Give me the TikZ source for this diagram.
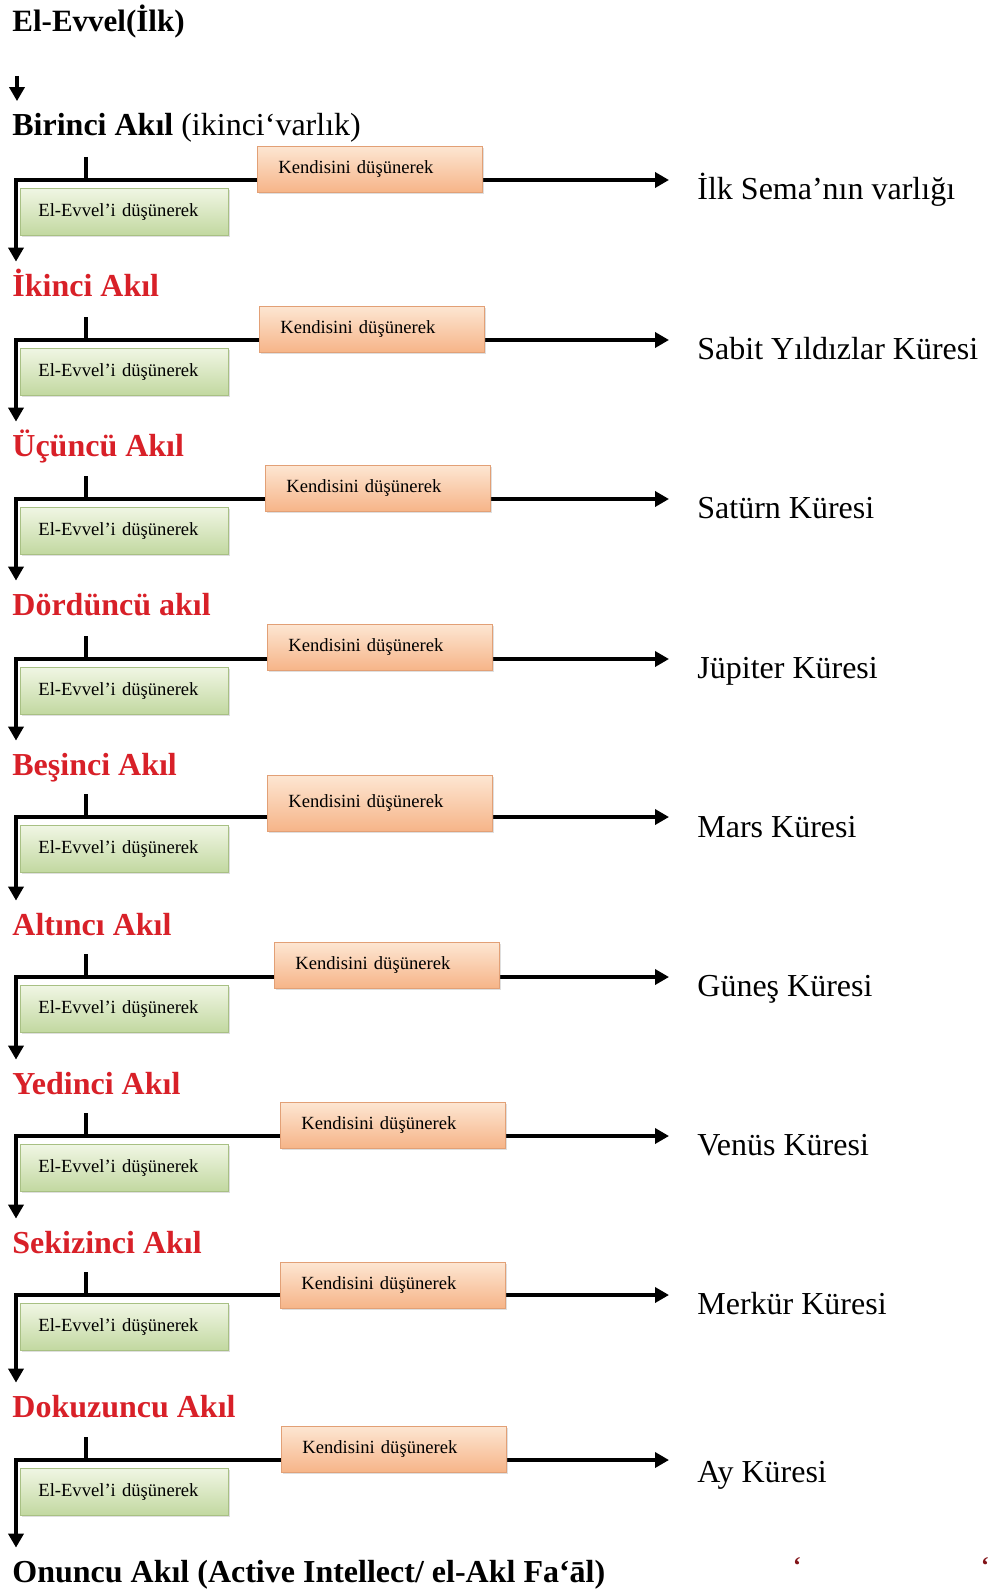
\documentclass[tikz,border=0pt]{standalone}
\usepackage{fontspec}
\setmainfont{Liberation Serif}
\usetikzlibrary{arrows.meta,shadows}
\definecolor{akilred}{RGB}{216,32,40}
\definecolor{kendtop}{RGB}{253,230,210}
\definecolor{kendbot}{RGB}{246,180,136}
\definecolor{kendline}{RGB}{226,160,118}
\definecolor{evvtop}{RGB}{240,246,228}
\definecolor{evvbot}{RGB}{194,216,160}
\definecolor{evvline}{RGB}{168,192,132}

\tikzset{
  flow/.style={line width=2pt,-{Triangle[length=7pt,width=7.5pt]}},
  flowboth/.style={line width=2pt,{Triangle[length=7pt,width=7.5pt]}-{Triangle[length=7pt,width=7.5pt]}},
  tick/.style={line width=2pt},
  akil/.style={anchor=west,inner sep=0pt,font=\fontsize{16}{18}\selectfont\bfseries,
    text height=11pt,text depth=3.5pt},
  redakil/.style={akil,text=akilred},
  kure/.style={anchor=west,inner sep=0pt,font=\fontsize{16}{18}\selectfont,
    text height=11pt,text depth=3.5pt},
  kendi/.style={anchor=north west,draw=kendline,line width=0.4pt,
    top color=kendtop,bottom color=kendbot,
    drop shadow={shadow xshift=1pt,shadow yshift=-1pt,opacity=0.25},
    inner xsep=10.5pt,inner ysep=0pt,text width=91.5pt,align=left,
    minimum height=23pt,font=\fontsize{9.3}{11}\selectfont},
  evvel/.style={anchor=north west,draw=evvline,line width=0.4pt,
    top color=evvtop,bottom color=evvbot,
    drop shadow={shadow xshift=1pt,shadow yshift=-1pt,opacity=0.25},
    inner xsep=9pt,inner ysep=0pt,text width=86pt,align=left,
    minimum height=23.5pt,font=\fontsize{9.3}{11}\selectfont}
}

\begin{document}
\begin{tikzpicture}[x=0.5pt,y=-0.5pt]
  \useasboundingbox (0,0) rectangle (988,1589);

  % titles of the intellects
  \node[anchor=west,inner sep=0pt,font=\fontsize{15.5}{18}\selectfont\bfseries] (ilk) at (12,22) {El-Evvel(İlk)};
  \node[akil] (akil1) at (12,128) {Birinci Akıl \textmd{(ikinci‘varlık)}};
  \node[redakil] (akil2) at (12,289) {İkinci Akıl};
  \node[redakil] (akil3) at (12,449) {Üçüncü Akıl};
  \node[redakil] (akil4) at (12,608) {Dördüncü akıl};
  \node[redakil] (akil5) at (12,768) {Beşinci Akıl};
  \node[redakil] (akil6) at (12,928) {Altıncı Akıl};
  \node[redakil] (akil7) at (12,1087) {Yedinci Akıl};
  \node[redakil] (akil8) at (12,1246) {Sekizinci Akıl};
  \node[redakil] (akil9) at (12,1410) {Dokuzuncu Akıl};
  \node[akil] (akil10) at (12,1575) {Onuncu Akıl (Active Intellect/ el-Akl Fa‘āl)};

  % spheres
  \node[kure] (kure1) at (697,192) {İlk Sema’nın varlığı};
  \node[kure] (kure2) at (697,352) {Sabit Yıldızlar Küresi};
  \node[kure] (kure3) at (697,511) {Satürn Küresi};
  \node[kure] (kure4) at (697,671) {Jüpiter Küresi};
  \node[kure] (kure5) at (697,830) {Mars Küresi};
  \node[kure] (kure6) at (697,989) {Güneş Küresi};
  \node[kure] (kure7) at (697,1148) {Venüs Küresi};
  \node[kure] (kure8) at (697,1307) {Merkür Küresi};
  \node[kure] (kure9) at (697,1475) {Ay Küresi};

  % corners and ticks
  \coordinate (s0) at (17,76);
  \coordinate (c1) at (16,180);   \coordinate (t1) at (86,157);
  \coordinate (c2) at (16,340);   \coordinate (t2) at (86,317);
  \coordinate (c3) at (16,499);   \coordinate (t3) at (86,476);
  \coordinate (c4) at (16,659);   \coordinate (t4) at (86,636);
  \coordinate (c5) at (16,817);   \coordinate (t5) at (86,794);
  \coordinate (c6) at (16,977);   \coordinate (t6) at (86,954);
  \coordinate (c7) at (16,1136);  \coordinate (t7) at (86,1113);
  \coordinate (c8) at (16,1295);  \coordinate (t8) at (86,1272);
  \coordinate (c9) at (16,1460);  \coordinate (t9) at (86,1437);

  \draw[flow,shorten >=6pt] (s0) -- (akil1.north -| s0);

  \draw[flowboth,shorten <=6.25pt,shorten >=14pt] (akil2.north -| c1) -- (c1) -- (c1 -| kure1.west);
  \draw[flowboth,shorten <=6.25pt,shorten >=14pt] (akil3.north -| c2) -- (c2) -- (c2 -| kure2.west);
  \draw[flowboth,shorten <=6.25pt,shorten >=14pt] (akil4.north -| c3) -- (c3) -- (c3 -| kure3.west);
  \draw[flowboth,shorten <=6.25pt,shorten >=14pt] (akil5.north -| c4) -- (c4) -- (c4 -| kure4.west);
  \draw[flowboth,shorten <=6.25pt,shorten >=14pt] (akil6.north -| c5) -- (c5) -- (c5 -| kure5.west);
  \draw[flowboth,shorten <=6.25pt,shorten >=14pt] (akil7.north -| c6) -- (c6) -- (c6 -| kure6.west);
  \draw[flowboth,shorten <=6.25pt,shorten >=14pt] (akil8.north -| c7) -- (c7) -- (c7 -| kure7.west);
  \draw[flowboth,shorten <=6.25pt,shorten >=14pt] (akil9.north -| c8) -- (c8) -- (c8 -| kure8.west);
  \draw[flowboth,shorten <=6.25pt,shorten >=14pt] (akil10.north -| c9) -- (c9) -- (c9 -| kure9.west);

  \draw[tick] (t1) -- (t1 |- c1);
  \draw[tick] (t2) -- (t2 |- c2);
  \draw[tick] (t3) -- (t3 |- c3);
  \draw[tick] (t4) -- (t4 |- c4);
  \draw[tick] (t5) -- (t5 |- c5);
  \draw[tick] (t6) -- (t6 |- c6);
  \draw[tick] (t7) -- (t7 |- c7);
  \draw[tick] (t8) -- (t8 |- c8);
  \draw[tick] (t9) -- (t9 |- c9);

  % boxes
  \node[kendi] (kendi1) at (257,146) {Kendisini düşünerek};
  \node[kendi] (kendi2) at (259,306) {Kendisini düşünerek};
  \node[kendi] (kendi3) at (265,465) {Kendisini düşünerek};
  \node[kendi] (kendi4) at (267,624) {Kendisini düşünerek};
  \node[kendi,minimum height=28pt] (kendi5) at (267,775) {Kendisini düşünerek};
  \node[kendi] (kendi6) at (274,942) {Kendisini düşünerek};
  \node[kendi] (kendi7) at (280,1102) {Kendisini düşünerek};
  \node[kendi] (kendi8) at (280,1262) {Kendisini düşünerek};
  \node[kendi] (kendi9) at (281,1426) {Kendisini düşünerek};

  \node[evvel] (evvel1) at (20,188) {El-Evvel’i düşünerek};
  \node[evvel] (evvel2) at (20,348) {El-Evvel’i düşünerek};
  \node[evvel] (evvel3) at (20,507) {El-Evvel’i düşünerek};
  \node[evvel] (evvel4) at (20,667) {El-Evvel’i düşünerek};
  \node[evvel] (evvel5) at (20,825) {El-Evvel’i düşünerek};
  \node[evvel] (evvel6) at (20,985) {El-Evvel’i düşünerek};
  \node[evvel] (evvel7) at (20,1144) {El-Evvel’i düşünerek};
  \node[evvel] (evvel8) at (20,1303) {El-Evvel’i düşünerek};
  \node[evvel] (evvel9) at (20,1468) {El-Evvel’i düşünerek};

  % stray marks
  \node[inner sep=0pt,text=akilred!60!black,font=\fontsize{12}{12}\selectfont\bfseries] (iz1) at (797,1565) {‘};
  \node[inner sep=0pt,text=akilred!60!black,font=\fontsize{12}{12}\selectfont\bfseries] (iz2) at (985,1565) {‘};
\end{tikzpicture}
\end{document}
